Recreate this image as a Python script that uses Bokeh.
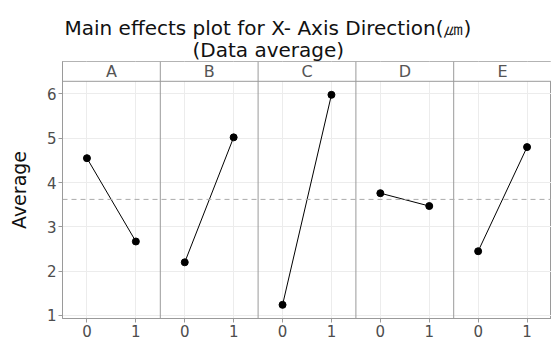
from bokeh.plotting import figure
from bokeh.models import Range1d, FixedTicker, Span, ColumnDataSource, Title
from bokeh.core.properties import value
from bokeh.embed import file_html
from bokeh.resources import INLINE

# ---- data ----
factors = ["A", "B", "C", "D", "E"]
levels = ["0", "1"]
mean_level0 = [4.55, 2.20, 1.24, 3.76, 2.45]
mean_level1 = [2.67, 5.02, 5.98, 3.47, 4.80]
grand_mean = 3.62
y_ticks = [1, 2, 3, 4, 5, 6]
title_lines = ["Main effects plot for X- Axis Direction(\u339b)", "(Data average)"]

FONT = "DejaVu Sans"
BORDER = "#9a9a9a"
GRID = "#ececec"

n = len(factors)
x0 = [2 * i for i in range(n)]
x1 = [2 * i + 1 for i in range(n)]

y_bottom, y_strip, y_top = 0.932, 6.285, 6.732

p = figure(width=551, height=339, output_backend="svg", toolbar_location=None, title=None,
           x_range=Range1d(-0.5, 2 * n - 0.5), y_range=Range1d(y_bottom, y_top),
           min_border_left=62, min_border_right=0, min_border_top=61, min_border_bottom=10)

# two title lines (second line nearest the panels)
p.add_layout(Title(text=title_lines[1], align="left", offset=130, standoff=0,
                   text_font=FONT, text_font_size="20px", text_font_style="normal",
                   text_color="#111111"), "above")
p.add_layout(Title(text=title_lines[0], align="left", offset=2, standoff=-9,
                   text_font=FONT, text_font_size="20px", text_font_style="normal",
                   text_color="#111111"), "above")

p.outline_line_color = BORDER
p.outline_line_width = 1

p.xgrid.ticker = FixedTicker(ticks=list(range(2 * n)))
p.ygrid.ticker = FixedTicker(ticks=y_ticks)
p.xgrid.grid_line_color = GRID
p.ygrid.grid_line_color = GRID

p.xaxis.ticker = FixedTicker(ticks=list(range(2 * n)))
p.xaxis.major_label_overrides = {i: levels[i % 2] for i in range(2 * n)}
p.yaxis.ticker = FixedTicker(ticks=y_ticks)
p.yaxis.axis_label = "Average"
for ax in (p.xaxis[0], p.yaxis[0]):
    ax.axis_line_color = BORDER
    ax.major_tick_line_color = BORDER
    ax.major_tick_out = 4
    ax.major_tick_in = 0
    ax.minor_tick_line_color = None
    ax.major_label_text_font = FONT
    ax.major_label_text_font_size = "15px"
    ax.major_label_text_color = "#4d4d4d"
    ax.major_label_standoff = 2
p.yaxis.axis_label_text_font = FONT
p.yaxis.axis_label_text_font_size = "19px"
p.yaxis.axis_label_text_font_style = "normal"
p.yaxis.axis_label_text_color = "#111111"
p.yaxis.axis_label_standoff = 14

# strip area (covers grid)
p.quad(left=[-0.5], right=[2 * n - 0.5], bottom=[y_strip], top=[y_top],
       fill_color="white", line_color=None)
p.add_layout(Span(location=y_strip, dimension="width", line_color=BORDER, line_width=1))
for i in range(1, n):
    p.add_layout(Span(location=2 * i - 0.5, dimension="height", line_color=BORDER, line_width=1))

p.text(x=[2 * i + 0.5 for i in range(n)], y=[(y_strip + y_top) / 2] * n, text=factors,
       text_font=value(FONT), text_font_size="16px", text_color="#555555",
       text_align="center", text_baseline="middle")

# grand mean
p.add_layout(Span(location=grand_mean, dimension="width", line_color="#aaaaaa",
                  line_width=1, line_dash="5 4"))

# effects
src = ColumnDataSource(dict(x0=x0, x1=x1, y0=mean_level0, y1=mean_level1))
p.segment(x0="x0", y0="y0", x1="x1", y1="y1", source=src, line_color="black", line_width=1)
p.scatter(x="x0", y="y0", source=src, size=7, color="black")
p.scatter(x="x1", y="y1", source=src, size=7, color="black")

open("out.html", "w").write(file_html(p, INLINE))
